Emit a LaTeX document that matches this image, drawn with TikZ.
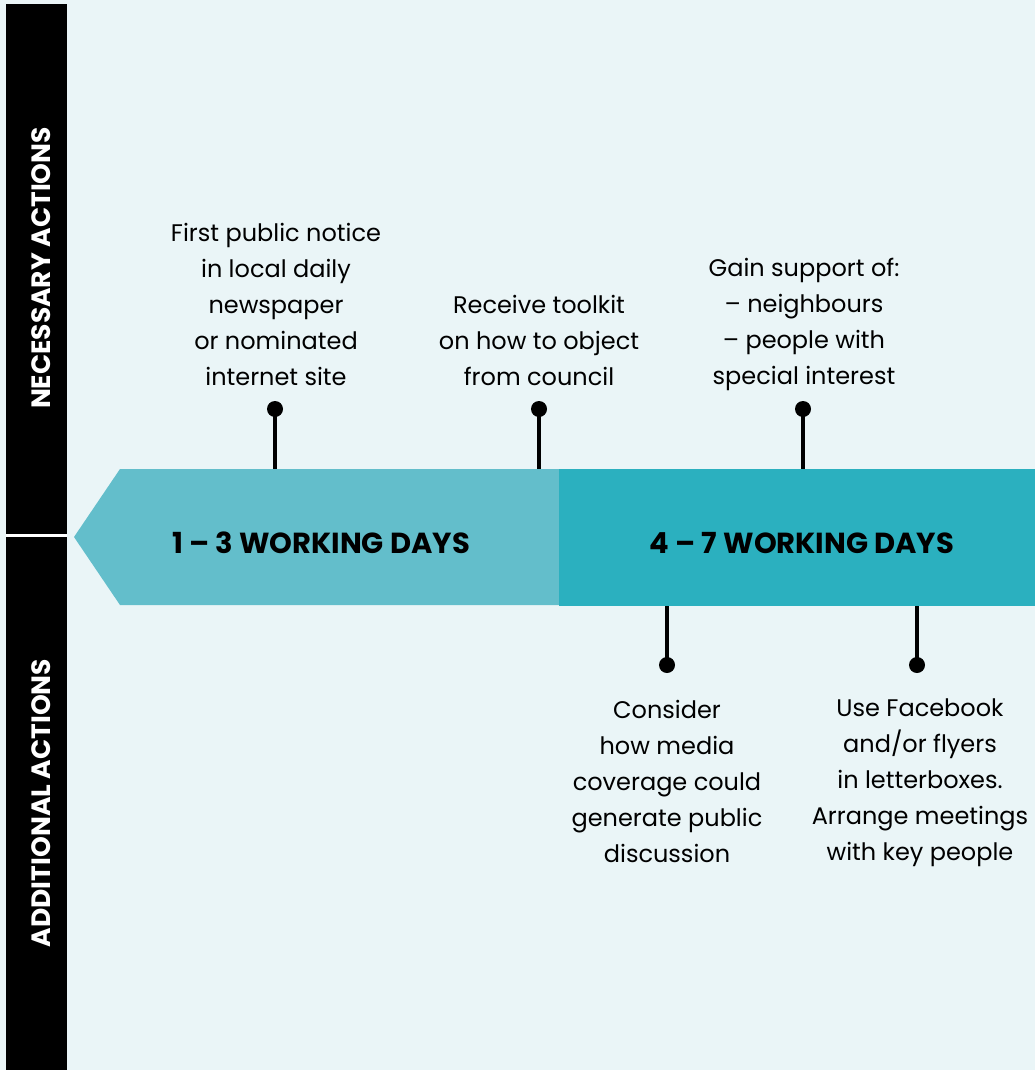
\documentclass[tikz,border=0pt]{standalone}
\usepackage{fontspec}
\setmainfont{Poppins}
\definecolor{bgc}{HTML}{EAF5F7}
\definecolor{lightt}{HTML}{63BECB}
\definecolor{darkt}{HTML}{2BB0BF}
\tikzset{
  body/.style={align=center, inner sep=0pt, font=\fontsize{24}{36}\selectfont},
  daylabel/.style={inner sep=0pt, font=\fontsize{29}{32}\selectfont\bfseries},
  sidelabel/.style={rotate=90, inner sep=0pt, text=white, font=\fontsize{26.5}{30}\selectfont\bfseries},
  stem/.style={line width=4pt},
  pin/.style={circle, fill=black, inner sep=0pt, minimum size=16pt},
}
\begin{document}
\begin{tikzpicture}[x=1pt,y=-1pt]
\fill[bgc] (0,0) rectangle (1035,1070);
\useasboundingbox (0,0) rectangle (1035,1070);
% sidebar
\fill[black] (6,4) rectangle (67,534);
\fill[white] (6,534) rectangle (67,537);
\fill[black] (6,537) rectangle (67,1070);
\node[sidelabel] (nec) at (41,268) {NECESSARY ACTIONS};
\node[sidelabel] (add) at (41,803) {ADDITIONAL ACTIONS};
% arrow
\fill[lightt] (74,537) -- (120,469) -- (560,469) -- (560,605) -- (120,605) -- cycle;
\fill[darkt] (559,469) rectangle (1035,606);
\node[daylabel] (d1) at (321,543) {1 – 3 WORKING DAYS};
\node[daylabel] (d2) at (802,543) {4 – 7 WORKING DAYS};
% pins top
\coordinate (b1) at (275,469);
\coordinate (b2) at (539,469);
\coordinate (b3) at (803,469);
\node[pin] (p1) at (275,409) {};
\node[pin] (p2) at (539,409) {};
\node[pin] (p3) at (803,409) {};
\draw[stem] (p1.center) -- (b1);
\draw[stem] (p2.center) -- (b2);
\draw[stem] (p3.center) -- (b3);
% pins bottom
\coordinate (b4) at (667,606);
\coordinate (b5) at (917,606);
\node[pin] (p4) at (667,665) {};
\node[pin] (p5) at (917,665) {};
\draw[stem] (p4.center) -- (b4);
\draw[stem] (p5.center) -- (b5);
% texts
\node[body] (t1) at (276,304) {First public notice\\in local daily\\newspaper\\or nominated\\internet site};
\node[body] (t2) at (539,340) {Receive toolkit\\on how to object\\from council};
\node[body] (t3) at (804,324) {Gain support of:\\– neighbours\\– people with\\special interest};
\node[body] (t4) at (667,781) {Consider\\how media\\coverage could\\generate public\\discussion};
\node[body] (t5) at (920,783) {Use Facebook\\and/or flyers\\in letterboxes.\\Arrange meetings\\with key people};
\end{tikzpicture}
\end{document}
